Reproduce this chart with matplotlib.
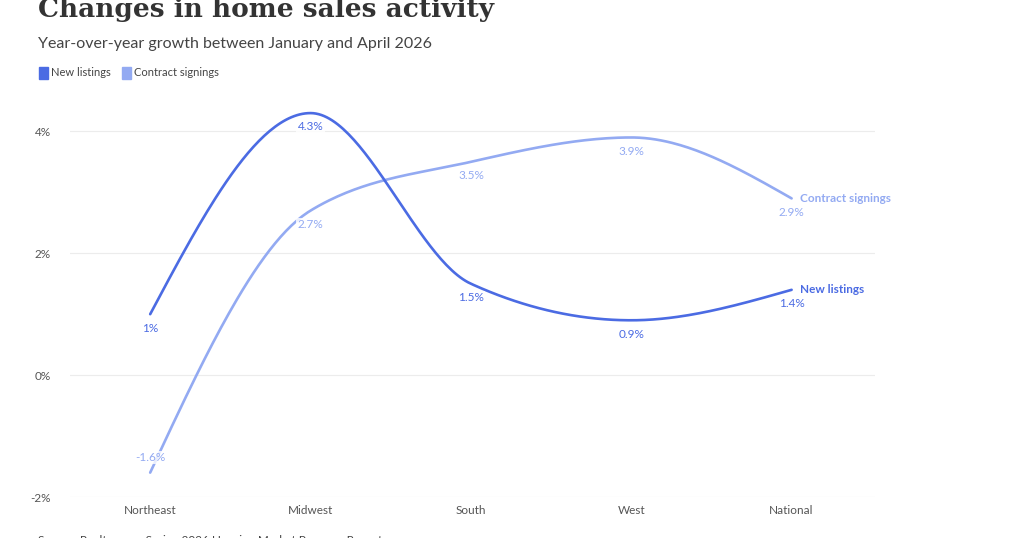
import numpy as np
import matplotlib
matplotlib.use("Agg")
import matplotlib.pyplot as plt

categories = ["Northeast", "Midwest", "South", "West", "National"]
new_listings = [1.0, 4.3, 1.5, 0.9, 1.4]
contract_signings = [-1.6, 2.7, 3.5, 3.9, 2.9]
nl_labels = ["1%", "4.3%", "1.5%", "0.9%", "1.4%"]
cs_labels = ["-1.6%", "2.7%", "3.5%", "3.9%", "2.9%"]
yticks = [-2, 0, 2, 4]
ytick_labels = ["-2%", "0%", "2%", "4%"]

plt.rcParams['font.family'] = ['Lato', 'DejaVu Sans']

def monotone(x, y, n=60):
    x = np.asarray(x, float); y = np.asarray(y, float)
    h = np.diff(x); s = np.diff(y) / h
    m = np.zeros_like(y)
    for i in range(1, len(y) - 1):
        if s[i-1] * s[i] <= 0:
            m[i] = 0
        else:
            p = (s[i-1]*h[i] + s[i]*h[i-1]) / (h[i-1] + h[i])
            m[i] = np.sign(s[i-1]) * min(2*min(abs(s[i-1]), abs(s[i])), abs(p))
    m[0] = (3*s[0] - m[1]) / 2 if s[0]*(3*s[0]-m[1]) > 0 else 0
    m[-1] = (3*s[-1] - m[-2]) / 2 if s[-1]*(3*s[-1]-m[-2]) > 0 else 0
    xs, ys = [], []
    for i in range(len(h)):
        t = np.linspace(0, 1, n)
        h00 = 2*t**3 - 3*t**2 + 1; h10 = t**3 - 2*t**2 + t
        h01 = -2*t**3 + 3*t**2; h11 = t**3 - t**2
        xs.append(x[i] + t*h[i])
        ys.append(h00*y[i] + h10*h[i]*m[i] + h01*y[i+1] + h11*h[i]*m[i+1])
    return np.concatenate(xs), np.concatenate(ys)

c_nl = "#4b6be3"
c_cs = "#93aaf2"

fig = plt.figure(figsize=(10.24, 5.38), dpi=100)
ax = fig.add_axes([70/1024, 41/538, 805/1024, 390/538])
x = np.arange(len(categories))
for vals, col, labs, name in [(contract_signings, c_cs, cs_labels, "Contract signings"),
                              (new_listings, c_nl, nl_labels, "New listings")]:
    xs, ys = monotone(x, vals)
    ax.plot(xs, ys, color=col, lw=1.9, solid_capstyle='round')
    for xi, v, lb in zip(x, vals, labs):
        off = 11 if v < -1 else -10
        ax.annotate(lb, (xi, v), xytext=(0, off), textcoords='offset points',
                    ha='center', va='center', fontsize=8.5, color=col,
                    bbox=dict(boxstyle='square,pad=0.1', fc='white', ec='none', alpha=0.8))
    ax.annotate(name, (x[-1], vals[-1]), xytext=(6, 0), textcoords='offset points',
                ha='left', va='center', fontsize=8.5, color=col, fontweight='bold')

ax.set_xlim(-0.5, 4.52)
ax.set_ylim(-2, 4.4)
ax.set_yticks(yticks)
ax.set_yticklabels(ytick_labels)
ax.set_xticks(x)
ax.set_xticklabels(categories)
ax.grid(axis='y', color='#ececec', lw=0.8)
ax.set_axisbelow(True)
for sp in ax.spines.values():
    sp.set_visible(False)
ax.tick_params(length=0, labelsize=8.5, colors='#555555')
ax.tick_params(axis='y', pad=14)
ax.tick_params(axis='x', pad=6)

fig.text(38/1024, 1 - 10/538, "Changes in home sales activity", family='DejaVu Serif',
         fontweight='bold', fontsize=19, color='#333333', va='center')
fig.text(38/1024, 1 - 44/538, "Year-over-year growth between January and April 2026",
         fontsize=11.5, color='#444444', va='center')
fig.patches.append(plt.Rectangle((39/1024, 1-79/538), 9/1024, 12/538, transform=fig.transFigure,
                                 color=c_nl, figure=fig))
fig.text(51/1024, 1 - 73/538, "New listings", fontsize=8, color='#444444', va='center')
fig.patches.append(plt.Rectangle((122/1024, 1-79/538), 9/1024, 12/538, transform=fig.transFigure,
                                 color=c_cs, figure=fig))
fig.text(134/1024, 1 - 73/538, "Contract signings", fontsize=8, color='#444444', va='center')
fig.text(38/1024, 1 - 540/538, "Source: Realtor.com Spring 2026 Housing Market Progress Report",
         fontsize=8.5, color='#444444', va='center')
fig.savefig("out.png", dpi=100, facecolor='white')
